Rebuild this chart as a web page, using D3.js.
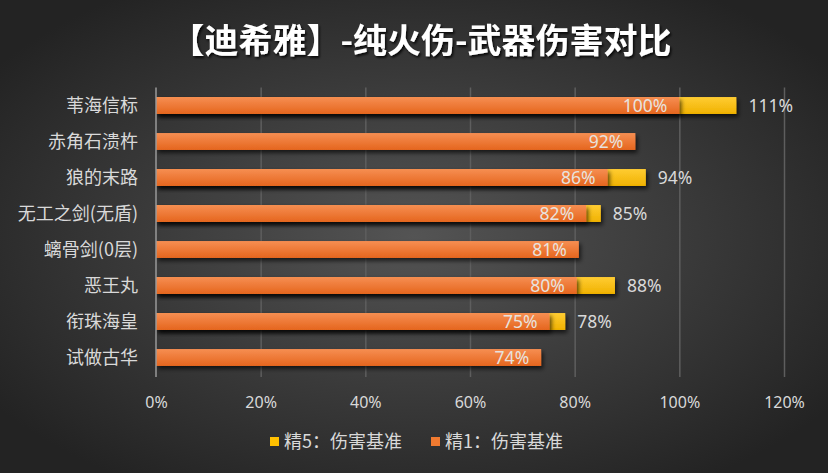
<!DOCTYPE html>
<html><head><meta charset="utf-8">
<script src="https://cdn.jsdelivr.net/npm/d3@7"></script>
<style>html,body{margin:0;padding:0;background:#2a2a2a;}svg{display:block;}</style>
</head><body>
<script>
const categories = ["苇海信标","赤角石溃杵","狼的末路","无工之剑(无盾)","螭骨剑(0层)","恶王丸","衔珠海皇","试做古华"];
const refine1 = [100,91.6,86.3,82.2,80.8,80.4,75.2,73.6];
const refine5 = [110.9,null,93.6,85,null,87.7,78.2,null];
const ticks = [0,20,40,60,80,100,120];
const seriesNames = ["精5：伤害基准","精1：伤害基准"];
const title = "【迪希雅】-纯火伤-武器伤害对比";

const W = 828, H = 473;
const fmt = v => d3.format(".0f")(v) + "%";
const svg = d3.select("body").append("svg").attr("width", W).attr("height", H);
const defs = svg.append("defs");

const bg = defs.append("radialGradient").attr("id","bg").attr("cx","50%").attr("cy","50%").attr("r","62%");
bg.append("stop").attr("offset","0%").attr("stop-color","#545454");
bg.append("stop").attr("offset","100%").attr("stop-color","#232323");

const og = defs.append("linearGradient").attr("id","og").attr("x1",0).attr("y1",0).attr("x2",0).attr("y2",1);
og.append("stop").attr("offset","0%").attr("stop-color","#F68E52");
og.append("stop").attr("offset","100%").attr("stop-color","#E5661E");
const yg = defs.append("linearGradient").attr("id","yg").attr("x1",0).attr("y1",0).attr("x2",0).attr("y2",1);
yg.append("stop").attr("offset","0%").attr("stop-color","#FFCC33");
yg.append("stop").attr("offset","100%").attr("stop-color","#F0B200");

const sh = defs.append("filter").attr("id","sh").attr("x","-10%").attr("y","-50%").attr("width","130%").attr("height","250%");
sh.append("feDropShadow").attr("dx",2).attr("dy",3).attr("stdDeviation",2).attr("flood-color","#000").attr("flood-opacity",0.65);
const tsh = defs.append("filter").attr("id","tsh").attr("x","-10%").attr("y","-30%").attr("width","120%").attr("height","160%");
tsh.append("feDropShadow").attr("dx",1.5).attr("dy",2).attr("stdDeviation",1.2).attr("flood-color","#000").attr("flood-opacity",0.8);

svg.append("rect").attr("width",W).attr("height",H).attr("fill","url(#bg)");

const x = d3.scaleLinear().domain([0,120]).range([156,784]);
const y = d3.scaleBand().domain(categories).range([87.5,375.5]).paddingInner(0.53).paddingOuter(0.265);

// title
svg.append("text").attr("x",421).attr("y",53).attr("text-anchor","middle")
  .attr("font-family","'Noto Sans CJK SC', sans-serif").attr("font-weight","bold").attr("font-size",34)
  .attr("fill","#ffffff").attr("filter","url(#tsh)").text(title);

// gridlines
svg.append("g").selectAll("line").data(ticks.filter(t=>t>0)).join("line")
  .attr("x1",d=>x(d)+0.5).attr("x2",d=>x(d)+0.5).attr("y1",87.5).attr("y2",377)
  .attr("stroke","#5e5e5e").attr("stroke-width",1.5);

// x axis tick labels
const xAxis = d3.axisBottom(x).tickValues(ticks).tickFormat(d=>d+"%").tickSize(0).tickPadding(0);
const ax = svg.append("g").attr("transform","translate(0,408)").call(xAxis);
ax.select(".domain").remove();
ax.selectAll("text").attr("dy",0).attr("fill","#d9d9d9").attr("font-size",16)
  .attr("font-family","'Noto Sans', sans-serif");

// y axis labels
const yAxis = d3.axisLeft(y).tickSize(0).tickPadding(0);
const ay = svg.append("g").attr("transform","translate(138,0)").call(yAxis);
ay.select(".domain").remove();
ay.selectAll("text").attr("fill","#d9d9d9").attr("font-size",18)
  .attr("font-family","'Noto Sans CJK SC', sans-serif").attr("dy","0.35em");

// bars: refine5 (behind)
const rows = categories.map((c,i)=>({c, r1:refine1[i], r5:refine5[i]}));
svg.append("g").selectAll("rect").data(rows.filter(d=>d.r5!=null)).join("rect")
  .attr("x",x(0)).attr("y",d=>y(d.c)).attr("width",d=>x(d.r5)-x(0)).attr("height",y.bandwidth())
  .attr("fill","url(#yg)").attr("filter","url(#sh)");
svg.append("g").selectAll("rect").data(rows).join("rect")
  .attr("x",x(0)).attr("y",d=>y(d.c)).attr("width",d=>x(d.r1)-x(0)).attr("height",y.bandwidth())
  .attr("fill","url(#og)").attr("filter","url(#sh)");

// axis line at 0
svg.append("line").attr("x1",x(0)).attr("x2",x(0)).attr("y1",87.5).attr("y2",377)
  .attr("stroke","#9a9a9a").attr("stroke-width",1.5);

// labels
svg.append("g").selectAll("text").data(rows).join("text")
  .attr("x",d=>x(d.r1)-12).attr("y",d=>y(d.c)+y.bandwidth()/2).attr("dy","0.36em")
  .attr("text-anchor","end").attr("fill","#e8e2de").attr("font-size",17.5)
  .attr("font-family","'Noto Sans', sans-serif").text(d=>fmt(d.r1));
svg.append("g").selectAll("text").data(rows.filter(d=>d.r5!=null)).join("text")
  .attr("x",d=>x(d.r5)+12).attr("y",d=>y(d.c)+y.bandwidth()/2).attr("dy","0.36em")
  .attr("text-anchor","start").attr("fill","#d9d9d9").attr("font-size",17.5)
  .attr("font-family","'Noto Sans', sans-serif").text(d=>fmt(d.r5));

// legend
const legendItems = [{name:seriesNames[0], fill:"#FFC000", x:270},{name:seriesNames[1], fill:"#F07A30", x:431}];
const lg = svg.append("g").selectAll("g").data(legendItems).join("g")
  .attr("transform",d=>`translate(${d.x},437)`);
lg.append("rect").attr("width",9).attr("height",9).attr("fill",d=>d.fill);
lg.append("text").attr("x",14).attr("y",4.5).attr("dy","0.36em").attr("fill","#d9d9d9")
  .attr("font-size",18).attr("font-family","'Noto Sans CJK SC', sans-serif").text(d=>d.name);
</script>
</body></html>
